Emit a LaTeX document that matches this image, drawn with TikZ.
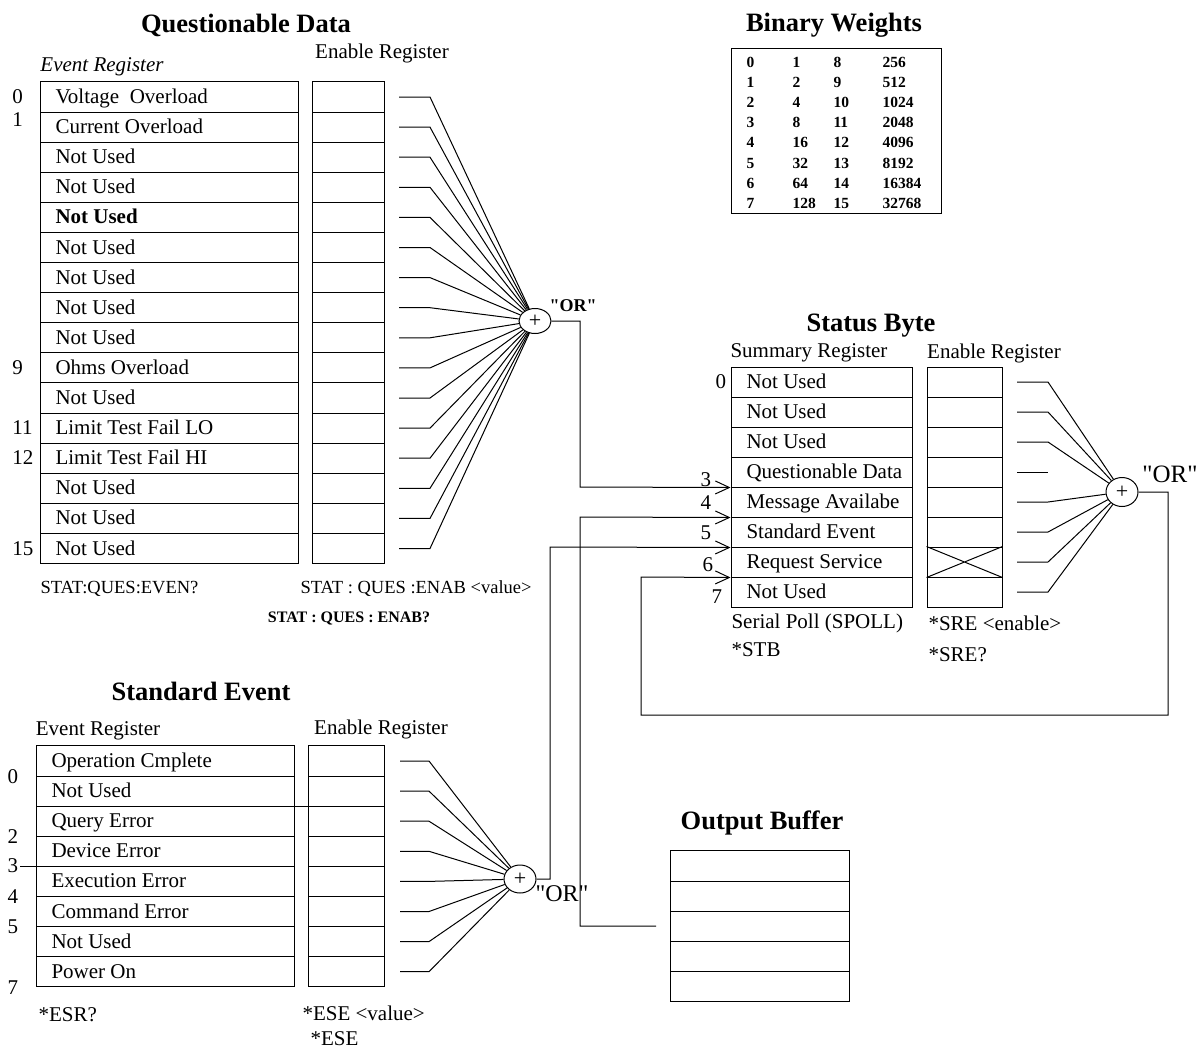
\documentclass[tikz,border=0pt]{standalone}
\usepackage{fontspec}
\setmainfont{Liberation Serif}
\usetikzlibrary{arrows.meta,positioning,calc,shapes}

\begin{document}
\begin{tikzpicture}[x=1pt, y=-1pt, line width=1pt,
    head/.style={font=\bfseries\fontsize{26.5}{30}\selectfont, inner sep=0pt},
    lbl/.style={font=\fontsize{21}{24}\selectfont, inner sep=0pt},
    cmd/.style={font=\fontsize{18.5}{21}\selectfont, inner sep=0pt},
    celltext/.style={lbl, anchor=base west},
    bitcell/.style={draw, minimum height=30.1pt, inner sep=0pt},
    orgate/.style={draw, ellipse, inner sep=0pt, minimum width=32pt, minimum height=25pt, font=\fontsize{22}{22}\selectfont},
    barb/.style={-{Straight Barb[length=14pt,width=13pt]}},
    weight/.style={font=\bfseries\fontsize{15.5}{17}\selectfont, inner sep=0pt, anchor=west}]
    \useasboundingbox (0,0) rectangle (1197,1050);

    % questionable data
    \node[head] (qdtitle) at (246,25) {Questionable Data};
    \node[lbl, font=\itshape\fontsize{21}{24}\selectfont] (qdevhead) at (102,67) {Event Register};
    \node[lbl] (qdenhead) at (382,53) {Enable Register};
    \foreach \t [count=\i from 0] in {Voltage\ \ Overload, Current Overload, Not Used, Not Used, \textbf{Not Used}, Not Used, Not Used, Not Used, Not Used, Ohms Overload, Not Used, Limit Test Fail LO, Limit Test Fail HI, Not Used, Not Used, Not Used}{
        \node[bitcell, minimum width=258pt] (qd\i) at (169,{97+30.1*\i}) {};
        \node[celltext] (qdt\i) at ($(qd\i.center)+(-114,6.5)$) {\t};
        \node[bitcell, minimum width=72pt] (qe\i) at (348,{97+30.1*\i}) {};
        \coordinate (qa\i) at (399,{97+30.1*\i});
        \coordinate (qb\i) at (430,{97+30.1*\i});
    }
    \foreach \n/\y in {0/97, 1/120, 9/368, 11/428, 12/458, 15/549}
        \node[lbl, anchor=west] (qn\n) at (12,\y) {\n};
    \node[orgate] (qdor) at (535,321) {+};
    \node[font=\bfseries\fontsize{18}{20}\selectfont, inner sep=0pt] (qdorlbl) at (573,306) {\textquotedbl OR\textquotedbl};
    \foreach \i in {0,...,15}
        \draw (qa\i) -- (qb\i) -- (qdor);
    \node[cmd, anchor=west] (qdevcmd) at (40,589) {STAT:QUES:EVEN?};
    \node[cmd, anchor=west] (qdencmd) at (300,589) {STAT : QUES :ENAB <value>};
    \node[font=\bfseries\fontsize{16}{18}\selectfont, inner sep=0pt] (qdenq) at (349,618) {STAT : QUES : ENAB?};

    % binary weights
    \node[head] (bwtitle) at (834,25) {Binary Weights};
    \node[draw, minimum width=210pt, minimum height=165pt] (bwbox) at (836,130.5) {};
    \foreach \a/\b/\c/\d [count=\i from 0] in {0/1/8/256, 1/2/9/512, 2/4/10/1024, 3/8/11/2048, 4/16/12/4096, 5/32/13/8192, 6/64/14/16384, 7/128/15/32768}{
        \node[weight] (bwa\i) at (746,{62+20.2*\i}) {\a};
        \node[weight] (bwb\i) at (792,{62+20.2*\i}) {\b};
        \node[weight] (bwc\i) at (833,{62+20.2*\i}) {\c};
        \node[weight] (bwd\i) at (882,{62+20.2*\i}) {\d};
    }

    % status byte
    \node[head] (sbtitle) at (871,326) {Status Byte};
    \node[lbl] (sbsumhead) at (809,353) {Summary Register};
    \node[lbl] (sbenhead) at (994,353) {Enable Register};
    \foreach \t [count=\i from 0] in {Not Used, Not Used, Not Used, Questionable Data, Message Availabe, Standard Event, Request Service, Not Used}{
        \node[bitcell, minimum width=181pt, minimum height=30pt] (sb\i) at (821.5,{382+30*\i}) {};
        \node[celltext] (sbt\i) at ($(sb\i.center)+(-75.5,6.5)$) {\t};
        \node[bitcell, minimum width=75pt, minimum height=30pt] (sbe\i) at (964.5,{382+30*\i}) {};
        \coordinate (sba\i) at (1017,{382+30*\i});
        \coordinate (sbb\i) at (1048,{382+30*\i});
    }
    \draw (sbe6.north west) -- (sbe6.south east) (sbe6.south west) -- (sbe6.north east);
    \foreach \n/\x/\y in {0/715/382, 3/700/480, 4/700/503, 5/700/533, 6/702/565, 7/711/597}
        \node[lbl, anchor=west] (sbn\n) at (\x,\y) {\n};
    \node[orgate, minimum height=29pt] (sbor) at (1122,492) {+};
    \node[font=\fontsize{25}{28}\selectfont, inner sep=0pt] (sborlbl) at (1170,474) {\textquotedbl OR\textquotedbl};
    \foreach \i in {0,1,2,4,5,6,7}
        \draw (sba\i) -- (sbb\i) -- (sbor);
    \draw (sba3) -- (sbb3);
    \node[lbl, anchor=west] (spoll) at (731,623) {Serial Poll (SPOLL)};
    \node[lbl, anchor=west] (stb) at (731,650) {*STB};
    \node[lbl, anchor=west] (sre) at (928,623) {*SRE <enable>};
    \node[lbl, anchor=west] (sreq) at (928,655) {*SRE?};

    % output buffer
    \node[head] (obtitle) at (762,823) {Output Buffer};
    \foreach \i in {0,...,4}
        \node[bitcell, minimum width=179pt, minimum height=30.2pt] (ob\i) at (759.5,{866+30.2*\i}) {};
    \coordinate (obout) at (656,926);

    % standard event
    \node[head] (setitle) at (201,691) {Standard Event};
    \node[lbl] (seevhead) at (98,731) {Event Register};
    \node[lbl] (seenhead) at (381,729) {Enable Register};
    \foreach \t [count=\i from 0] in {Operation Cmplete, Not Used, Query Error, Device Error, Execution Error, Command Error, Not Used, Power On}{
        \node[bitcell, minimum width=258pt] (ev\i) at (165,{761+30.1*\i}) {};
        \node[celltext] (evt\i) at ($(ev\i.center)+(-114,6.5)$) {\t};
        \node[bitcell, minimum width=76pt] (en\i) at (346,{761+30.1*\i}) {};
        \coordinate (ea\i) at (400,{761+30.1*\i});
        \coordinate (eb\i) at (429,{761+30.1*\i});
    }
    \draw (ev1.south east) -- ++(13,0);
    \draw (ev3.south west) -- ++(-16,0);
    \foreach \n/\y in {0/777, 2/837, 3/866, 4/897, 5/927, 7/988}
        \node[lbl, anchor=west] (sen\n) at (7,\y) {\n};
    \node[orgate, minimum height=28pt] (seor) at (520,879) {+};
    \node[font=\fontsize{24}{26}\selectfont, inner sep=0pt] (seorlbl) at (562,894) {\textquotedbl OR\textquotedbl};
    \foreach \i in {0,...,7}
        \draw (ea\i) -- (eb\i) -- (seor);
    \node[lbl, anchor=west] (esrq) at (38,1015) {*ESR?};
    \node[lbl, anchor=west] (eseval) at (302,1013) {*ESE <value>};
    \node[lbl, anchor=west] (eseq) at (310,1039) {*ESE};

    % summary inputs
    \draw[barb] (qdor.east) -| (580,487) -- (sb3.south west);
    \draw[barb] (obout) -| (580,517) -- (sb4.south west);
    \draw[barb] (seor.east) -| (550,547) -- (sb5.south west);
    \draw[barb] (sbor.east) -| (1168,715) -| (641,577) -- (sb6.south west);
\end{tikzpicture}
\end{document}
